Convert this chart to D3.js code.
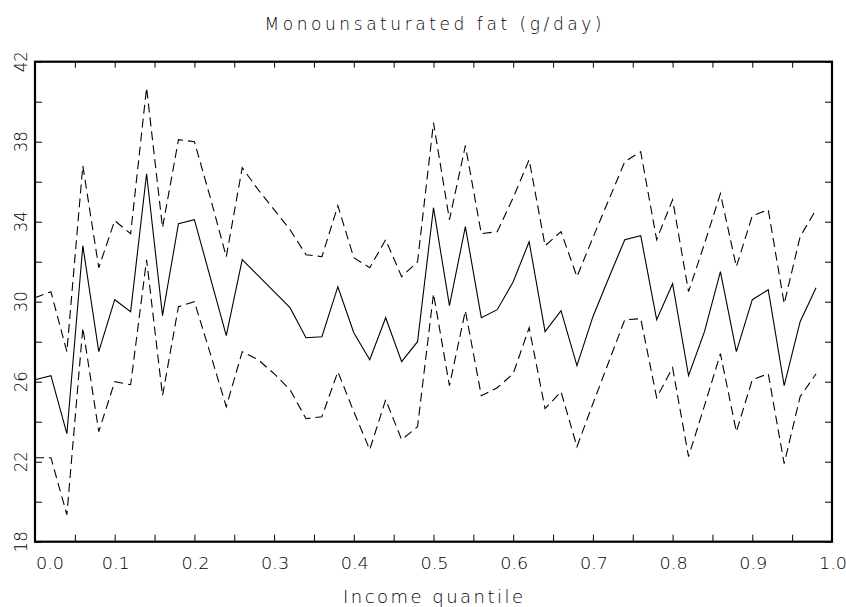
<!DOCTYPE html>
<html>
<head>
<meta charset="utf-8">
<script src="https://cdn.jsdelivr.net/npm/d3@7"></script>
<style>
  body { margin: 0; background: #fff; }
  text { font-family: "DejaVu Sans", sans-serif; font-weight: 200; fill: #000; }
</style>
</head>
<body>
<div id="chart-area"></div>
<script>
// income quantile (every 0.02)
var quantile = d3.range(50).map((i) => +(i * 0.02).toFixed(2));

var mean = [26.1, 26.3, 23.4, 32.8, 27.5, 30.1, 29.5, 36.4, 29.3, 33.9,
            34.1, 31.2, 28.3, 32.1, 31.3, 30.5, 29.7, 28.2, 28.25, 30.75,
            28.45, 27.1, 29.2, 27.0, 28.0, 34.7, 29.8, 33.75, 29.2, 29.6,
            31.0, 33.0, 28.5, 29.55, 26.8, 29.25, 31.2, 33.1, 33.3, 29.1,
            30.9, 26.3, 28.5, 31.5, 27.5, 30.1, 30.6, 25.8, 29.0, 30.7];

var upper = [30.2, 30.5, 27.5, 36.8, 31.7, 34.05, 33.4, 40.7, 33.7, 38.1,
             38.0, 35.2, 32.25, 36.7, 35.6, 34.6, 33.6, 32.35, 32.25, 34.8,
             32.2, 31.7, 33.1, 31.25, 32.0, 38.95, 34.1, 37.8, 33.4, 33.5,
             35.2, 37.1, 32.8, 33.5, 31.25, 33.2, 35.1, 37.0, 37.5, 33.1,
             35.1, 30.5, 32.9, 35.4, 31.75, 34.3, 34.6, 29.9, 33.25, 34.6];

var lower = [22.2, 22.2, 19.35, 28.7, 23.5, 26.0, 25.85, 32.1, 25.3, 29.75,
             30.0, 27.4, 24.75, 27.5, 27.1, 26.4, 25.6, 24.15, 24.25, 26.5,
             24.5, 22.6, 25.1, 23.1, 23.75, 30.4, 25.8, 29.55, 25.3, 25.7,
             26.4, 28.7, 24.65, 25.5, 22.75, 24.9, 27.0, 29.1, 29.15, 25.2,
             26.7, 22.25, 24.8, 27.4, 23.5, 26.1, 26.4, 21.9, 25.25, 26.4];

var xMajor = [0, 0.1, 0.2, 0.3, 0.4, 0.5, 0.6, 0.7, 0.8, 0.9, 1.0];
var yMajor = [18, 22, 26, 30, 34, 38, 42];

var W = 846, H = 607;
var pL = 35, pR = 832, pT = 61.7, pB = 541.7;

var svg = d3.select("#chart-area").append("svg")
    .attr("width", W)
    .attr("height", H);

var x = d3.scaleLinear().domain([0, 1]).range([pL, pR]);
var y = d3.scaleLinear().domain([18, 42]).range([pB, pT]);

var line = d3.line()
    .x((d, i) => x(quantile[i]))
    .y((d) => y(d));

// series
[[upper, "9,5"], [lower, "9,5"], [mean, null]].forEach((s) => {
  svg.append("path")
      .datum(s[0])
      .attr("d", line)
      .attr("fill", "none")
      .attr("stroke", "#000")
      .attr("stroke-width", 1.1)
      .attr("stroke-dasharray", s[1]);
});

// ticks: inward on all four sides
var xTicks = d3.range(0, 1.0001, 0.05);
var yTicks = d3.range(18, 42.0001, 2);

var axB = d3.axisBottom(x).tickValues(xTicks).tickSizeOuter(0)
    .tickSizeInner(-7).tickFormat(() => "");
var axT = d3.axisTop(x).tickValues(xTicks).tickSizeOuter(0)
    .tickSizeInner(-6).tickFormat(() => "");
var axL = d3.axisLeft(y).tickValues(yTicks).tickSizeOuter(0)
    .tickSizeInner(-7).tickFormat(() => "");
var axR = d3.axisRight(y).tickValues(yTicks).tickSizeOuter(0)
    .tickSizeInner(-7).tickFormat(() => "");

[[axB, 0, pB], [axT, 0, pT], [axL, pL, 0], [axR, pR, 0]].forEach((a) => {
  var g = svg.append("g")
      .attr("transform", "translate(" + a[1] + "," + a[2] + ")")
      .call(a[0]);
  g.select(".domain").remove();
  g.selectAll("line").attr("stroke", "#000").attr("stroke-width", 1);
});

// frame
svg.append("rect")
    .attr("x", pL)
    .attr("y", pT)
    .attr("width", pR - pL)
    .attr("height", pB - pT)
    .attr("fill", "none")
    .attr("stroke", "#000")
    .attr("stroke-width", 2.2);

// x tick labels
svg.selectAll(".xlab")
    .data(xMajor)
    .enter().append("text")
    .attr("class", "xlab")
    .attr("x", (d) => d === 0 ? x(d) + 15 : x(d) + 1)
    .attr("y", 569)
    .attr("text-anchor", "middle")
    .attr("font-size", 16)
    .attr("textLength", 28)
    .attr("lengthAdjust", "spacingAndGlyphs")
    .text((d) => d.toFixed(1));

// y tick labels (rotated)
svg.selectAll(".ylab")
    .data(yMajor)
    .enter().append("text")
    .attr("class", "ylab")
    .attr("transform", (d) => "translate(27," + y(d) + ") rotate(-90)")
    .attr("text-anchor", "middle")
    .attr("font-size", 18)
    .attr("textLength", 21)
    .attr("lengthAdjust", "spacingAndGlyphs")
    .text((d) => d);

// title and axis title
svg.append("text")
    .attr("x", 433)
    .attr("y", 30)
    .attr("text-anchor", "middle")
    .attr("font-size", 17)
    .attr("textLength", 337)
    .attr("lengthAdjust", "spacing")
    .text("Monounsaturated fat (g/day)");

svg.append("text")
    .attr("x", 433)
    .attr("y", 603)
    .attr("text-anchor", "middle")
    .attr("font-size", 18)
    .attr("textLength", 180)
    .attr("lengthAdjust", "spacing")
    .text("Income quantile");
</script>
</body>
</html>
